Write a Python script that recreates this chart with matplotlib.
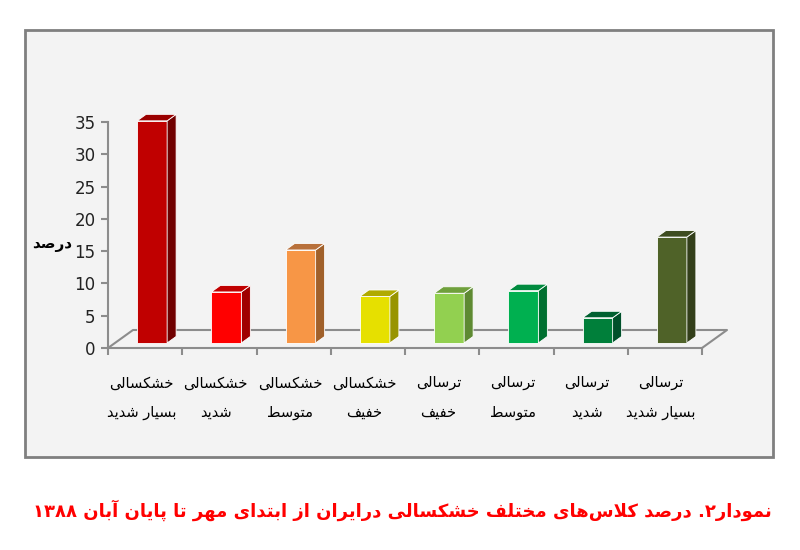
import re
import numpy as np
import matplotlib.pyplot as plt
from matplotlib.patches import Polygon, Rectangle

# categories (line 1 / line 2) and percentages
line1 = ['خشکسالی', 'خشکسالی', 'خشکسالی', 'خشکسالی', 'ترسالی', 'ترسالی', 'ترسالی', 'ترسالی']
line2 = ['بسیار شدید', 'شدید', 'متوسط', 'خفیف', 'خفیف', 'متوسط', 'شدید', 'بسیار شدید']
values = [34.4, 7.9, 14.4, 7.2, 7.7, 8.1, 3.9, 16.4]
yticks = [0, 5, 10, 15, 20, 25, 30, 35]
ylabel = 'درصد'
title = 'نمودار۲. درصد کلاس‌های مختلف خشکسالی درایران از ابتدای مهر تا پایان آبان ۱۳۸۸'

front = ['#C00000', '#FF0000', '#F79646', '#E6E000', '#92D050', '#00B050', '#007F3A', '#4F6228']
side = ['#700000', '#A00000', '#A0602A', '#989400', '#5E8A32', '#007030', '#00502A', '#333F1A']
top = ['#9A0000', '#C00000', '#B8703A', '#B0AA00', '#6FA03C', '#008A3E', '#006030', '#3E4D20']

# arabic presentation forms: isolated, final, initial, medial
FORMS = {
    'ا': (0xFE8D, 0xFE8E, None, None), 'آ': (0xFE81, 0xFE82, None, None),
    'ب': (0xFE8F, 0xFE90, 0xFE91, 0xFE92), 'پ': (0xFB56, 0xFB57, 0xFB58, 0xFB59),
    'ت': (0xFE95, 0xFE96, 0xFE97, 0xFE98), 'خ': (0xFEA5, 0xFEA6, 0xFEA7, 0xFEA8),
    'د': (0xFEA9, 0xFEAA, None, None), 'ر': (0xFEAD, 0xFEAE, None, None),
    'ز': (0xFEAF, 0xFEB0, None, None), 'س': (0xFEB1, 0xFEB2, 0xFEB3, 0xFEB4),
    'ش': (0xFEB5, 0xFEB6, 0xFEB7, 0xFEB8), 'ص': (0xFEB9, 0xFEBA, 0xFEBB, 0xFEBC),
    'ط': (0xFEC1, 0xFEC2, 0xFEC3, 0xFEC4), 'ف': (0xFED1, 0xFED2, 0xFED3, 0xFED4),
    'ک': (0xFB8E, 0xFB8F, 0xFB90, 0xFB91), 'ل': (0xFEDD, 0xFEDE, 0xFEDF, 0xFEE0),
    'م': (0xFEE1, 0xFEE2, 0xFEE3, 0xFEE4), 'ن': (0xFEE5, 0xFEE6, 0xFEE7, 0xFEE8),
    'ه': (0xFEE9, 0xFEEA, 0xFEEB, 0xFEEC), 'و': (0xFEED, 0xFEEE, None, None),
    'ی': (0xFBFC, 0xFBFD, 0xFBFE, 0xFBFF),
}
LAMALEF = {'ا': (0xFEFB, 0xFEFC), 'آ': (0xFEF5, 0xFEF6)}


def joins_next(c):
    return c in FORMS and FORMS[c][2] is not None


def fa(text):
    out = []
    i = 0
    n = len(text)
    while i < n:
        c = text[i]
        if c not in FORMS:
            if c != '\u200c':
                out.append(c)
            i += 1
            continue
        link_prev = i > 0 and joins_next(text[i - 1])
        if c == 'ل' and i + 1 < n and text[i + 1] in LAMALEF:
            out.append(chr(LAMALEF[text[i + 1]][1 if link_prev else 0]))
            i += 2
            continue
        link_next = joins_next(c) and i + 1 < n and text[i + 1] in FORMS
        iso, fin, ini, med = FORMS[c]
        if link_prev and link_next:
            g = med
        elif link_prev:
            g = fin
        elif link_next:
            g = ini
        else:
            g = iso
        out.append(chr(g))
        i += 1
    s = ''.join(out)[::-1]
    return re.sub(r'[0-9\u06F0-\u06F9]+', lambda m: m.group(0)[::-1], s)


fig = plt.figure(figsize=(8, 5.5), dpi=100)
fig.patch.set_facecolor('white')

# chart area box
bg = fig.add_axes([0, 0, 1, 1], zorder=0)
bg.set_axis_off()
bg.set_xlim(0, 800)
bg.set_ylim(550, 0)
bg.add_patch(Rectangle((25, 30), 748, 427, facecolor='#F3F3F3',
                       edgecolor='#7F7F7F', linewidth=2))

ax = fig.add_axes([108 / 800, 1 - 348 / 550, 594 / 800, 226 / 550], zorder=1)
ax.set_facecolor('none')
ax.set_xlim(0, 8)
ax.set_ylim(0, 35)

# depth of the floor, in data units
Dx, Dy = 25 / 74.25, 18 / 6.457
t0, t1 = 0.28, 0.64
w = 30 / 74.25
grey = '#8C8C8C'

# floor outline
fx = [0, Dx, 8 + Dx, 8]
fy = [0, Dy, Dy, 0]
ax.plot(fx, fy, color=grey, lw=1.5, clip_on=False, zorder=1)

d = t1 - t0
for i, v in enumerate(values):
    x0 = i + 0.5 - w / 2 + t0 * Dx
    y0 = t0 * Dy
    ax.add_patch(Rectangle((x0, y0), w, v, facecolor=front[i], edgecolor='white',
                           lw=0.6, clip_on=False, zorder=3))
    sx = [(x0 + w, y0), (x0 + w + d * Dx, y0 + d * Dy),
          (x0 + w + d * Dx, y0 + d * Dy + v), (x0 + w, y0 + v)]
    ax.add_patch(Polygon(sx, closed=True, facecolor=side[i], edgecolor='white',
                         lw=0.6, clip_on=False, zorder=3))
    tx = [(x0, y0 + v), (x0 + w, y0 + v), (x0 + w + d * Dx, y0 + v + d * Dy),
          (x0 + d * Dx, y0 + v + d * Dy)]
    ax.add_patch(Polygon(tx, closed=True, facecolor=top[i], edgecolor='white',
                         lw=0.6, clip_on=False, zorder=3))
    ax.text(i + 0.45, -5.4, fa(line1[i]), ha='center', va='center', fontsize=10.5,
            family='DejaVu Sans', color='black')
    ax.text(i + 0.45, -10.0, fa(line2[i]), ha='center', va='center', fontsize=10.5,
            family='DejaVu Sans', color='black')

for s in ['top', 'right']:
    ax.spines[s].set_visible(False)
for s in ['left', 'bottom']:
    ax.spines[s].set_color(grey)
    ax.spines[s].set_linewidth(1.5)

ax.set_yticks(yticks)
ax.set_yticklabels([str(t) for t in yticks], fontsize=12, color='#222222')
ax.set_xticks(range(9))
ax.set_xticklabels([])
ax.tick_params(axis='both', direction='out', length=5, width=1.5, color=grey)
ax.tick_params(axis='y', pad=4)

fig.text(52 / 800, 1 - 244 / 550, fa(ylabel), ha='center', va='center',
         fontsize=11, fontweight='bold', family='DejaVu Sans')

fig.text(402 / 800, 1 - 510 / 550, fa(title), ha='center', va='center',
         fontsize=13, fontweight='bold', color='#FF0000', family='DejaVu Sans')

plt.savefig('out.png', dpi=100)
